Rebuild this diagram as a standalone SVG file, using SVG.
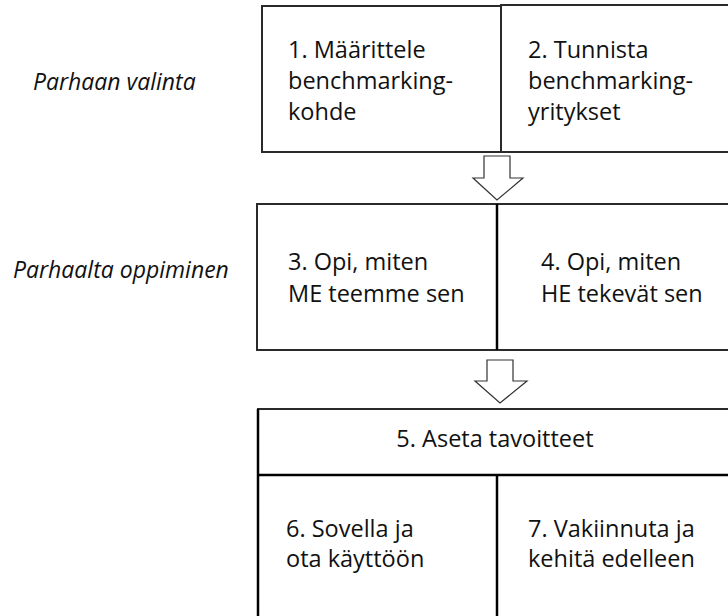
<svg xmlns="http://www.w3.org/2000/svg" width="728" height="616" viewBox="0 0 728 616">
<style>
.box{fill:#fff;stroke:#2a2a2a;stroke-width:2}
.div{stroke:#000;stroke-width:2.5}
.arr{fill:#fff;stroke:#333;stroke-width:1.2;stroke-linejoin:miter}
.t{font-family:"Open Sans","Noto Sans",sans-serif;font-size:23.5px;fill:#111}
.lab{font-family:"Open Sans","Noto Sans",sans-serif;font-size:23px;font-style:italic;fill:#111}
</style>
<rect width="728" height="616" fill="#fff"/>
<g id="label-parhaan-valinta"><text class="lab" x="33" y="90">Parhaan valinta</text></g>
<g id="label-parhaalta-oppiminen"><text class="lab" x="13" y="278">Parhaalta oppiminen</text></g>
<g id="node1">
<rect class="box" x="262" y="6" width="239" height="146"/>
<text class="t" x="288" y="58">1. Määrittele</text>
<text class="t" x="288" y="89">benchmarking-</text>
<text class="t" x="288" y="120">kohde</text>
</g>
<g id="node2">
<rect class="box" x="501" y="5" width="240" height="147"/>
<text class="t" x="528" y="58">2. Tunnista</text>
<text class="t" x="528" y="89">benchmarking-</text>
<text class="t" x="528" y="120">yritykset</text>
</g>
<g id="node3">
<rect class="box" x="257" y="204" width="240" height="146"/>
<text class="t" x="288" y="270">3. Opi, miten</text>
<text class="t" x="288" y="302">ME teemme sen</text>
</g>
<g id="node4">
<rect class="box" x="497" y="204" width="244" height="146"/>
<text class="t" x="541" y="270">4. Opi, miten</text>
<text class="t" x="541" y="302">HE tekevät sen</text>
</g>
<g id="node5">
<rect class="box" x="258" y="409" width="483" height="66"/>
<text class="t" x="495" y="447" text-anchor="middle">5. Aseta tavoitteet</text>
</g>
<g id="node6">
<rect class="box" x="258" y="475" width="239" height="150"/>
<text class="t" x="286" y="537">6. Sovella ja</text>
<text class="t" x="286" y="567">ota käyttöön</text>
</g>
<g id="node7">
<rect class="box" x="497" y="475" width="244" height="150"/>
<text class="t" x="528" y="537">7. Vakiinnuta ja</text>
<text class="t" x="528" y="567">kehitä edelleen</text>
</g>
<g id="connectors">
<line class="div" x1="497" y1="204" x2="497" y2="350"/>
<line class="div" x1="497" y1="475" x2="497" y2="616"/>
<line class="div" x1="258" y1="409" x2="258" y2="616"/>
<line class="div" x1="258" y1="475" x2="728" y2="475"/>
<path class="arr" d="M484 156 H510 V178 H523 L497 200 L473 178 H484 Z"/>
<path class="arr" d="M487 360 H513 V381 H527 L500 403 L475 381 H487 Z"/>
</g>
</svg>
